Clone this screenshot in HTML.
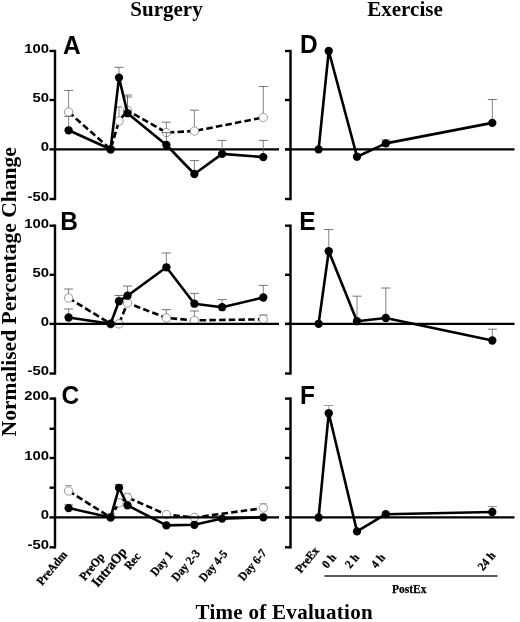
<!DOCTYPE html>
<html><head><meta charset="utf-8"><title>Figure</title>
<style>html,body{margin:0;padding:0;background:#fff}svg{display:block;will-change:transform;transform:translateZ(0)}</style>
</head><body>
<svg width="520" height="622" viewBox="0 0 520 622">
<line x1="68.60" y1="112.00" x2="68.60" y2="90.40" stroke="#666" stroke-width="0.8" />
<line x1="64.10" y1="90.40" x2="73.10" y2="90.40" stroke="#666" stroke-width="0.9" />
<line x1="119.00" y1="121.00" x2="119.00" y2="107.00" stroke="#666" stroke-width="0.8" />
<line x1="116.00" y1="107.00" x2="122.00" y2="107.00" stroke="#666" stroke-width="0.9" />
<line x1="127.50" y1="110.40" x2="127.50" y2="97.00" stroke="#666" stroke-width="0.8" />
<line x1="123.00" y1="97.00" x2="132.00" y2="97.00" stroke="#666" stroke-width="0.9" />
<line x1="166.40" y1="132.60" x2="166.40" y2="122.20" stroke="#666" stroke-width="0.8" />
<line x1="161.90" y1="122.20" x2="170.90" y2="122.20" stroke="#666" stroke-width="0.9" />
<line x1="194.40" y1="131.00" x2="194.40" y2="110.20" stroke="#666" stroke-width="0.8" />
<line x1="189.90" y1="110.20" x2="198.90" y2="110.20" stroke="#666" stroke-width="0.9" />
<line x1="263.30" y1="117.50" x2="263.30" y2="86.50" stroke="#666" stroke-width="0.8" />
<line x1="258.80" y1="86.50" x2="267.80" y2="86.50" stroke="#666" stroke-width="0.9" />
<line x1="55.00" y1="49.80" x2="55.00" y2="200.20" stroke="#000" stroke-width="2.4" />
<line x1="290.50" y1="49.80" x2="290.50" y2="200.20" stroke="#000" stroke-width="2.4" />
<line x1="49.50" y1="51.00" x2="55.00" y2="51.00" stroke="#000" stroke-width="2.4" />
<line x1="285.00" y1="51.00" x2="290.50" y2="51.00" stroke="#000" stroke-width="2.4" />
<text transform="translate(48.90 52.80) scale(1.1 1)" font-family="'Liberation Sans', Arial, sans-serif" font-weight="bold" font-size="13.5" text-anchor="end">100</text>
<line x1="49.50" y1="100.00" x2="55.00" y2="100.00" stroke="#000" stroke-width="2.4" />
<line x1="285.00" y1="100.00" x2="290.50" y2="100.00" stroke="#000" stroke-width="2.4" />
<text transform="translate(48.90 101.80) scale(1.1 1)" font-family="'Liberation Sans', Arial, sans-serif" font-weight="bold" font-size="13.5" text-anchor="end">50</text>
<line x1="49.50" y1="149.35" x2="55.00" y2="149.35" stroke="#000" stroke-width="2.4" />
<line x1="285.00" y1="149.35" x2="290.50" y2="149.35" stroke="#000" stroke-width="2.4" />
<text transform="translate(48.90 151.15) scale(1.1 1)" font-family="'Liberation Sans', Arial, sans-serif" font-weight="bold" font-size="13.5" text-anchor="end">0</text>
<line x1="49.50" y1="199.00" x2="55.00" y2="199.00" stroke="#000" stroke-width="2.4" />
<line x1="285.00" y1="199.00" x2="290.50" y2="199.00" stroke="#000" stroke-width="2.4" />
<text transform="translate(48.90 200.80) scale(1.1 1)" font-family="'Liberation Sans', Arial, sans-serif" font-weight="bold" font-size="13.5" text-anchor="end">-50</text>
<polyline points="68.60,112.00 110.60,149.30 119.00,121.00 127.50,110.40 166.40,132.60 194.40,131.00 263.30,117.50" fill="none" stroke="#000" stroke-width="2.6" stroke-linejoin="round" stroke-dasharray="6.5 3.2"/>
<circle cx="68.60" cy="112.00" r="4.2" fill="#fff" stroke="#808080" stroke-width="0.8"/>
<circle cx="110.60" cy="149.30" r="4.2" fill="#fff" stroke="#808080" stroke-width="0.8"/>
<circle cx="119.00" cy="121.00" r="4.2" fill="#fff" stroke="#808080" stroke-width="0.8"/>
<circle cx="127.50" cy="110.40" r="4.2" fill="#fff" stroke="#808080" stroke-width="0.8"/>
<circle cx="166.40" cy="132.60" r="4.2" fill="#fff" stroke="#808080" stroke-width="0.8"/>
<circle cx="194.40" cy="131.00" r="4.2" fill="#fff" stroke="#808080" stroke-width="0.8"/>
<circle cx="263.30" cy="117.50" r="4.2" fill="#fff" stroke="#808080" stroke-width="0.8"/>
<line x1="55.00" y1="149.35" x2="279.00" y2="149.35" stroke="#000" stroke-width="2.4" />
<line x1="285.00" y1="149.35" x2="514.50" y2="149.35" stroke="#000" stroke-width="2.4" />
<line x1="68.60" y1="130.30" x2="68.60" y2="116.40" stroke="#666" stroke-width="0.8" />
<line x1="64.10" y1="116.40" x2="73.10" y2="116.40" stroke="#666" stroke-width="0.9" />
<line x1="119.00" y1="77.60" x2="119.00" y2="67.30" stroke="#666" stroke-width="0.8" />
<line x1="114.50" y1="67.30" x2="123.50" y2="67.30" stroke="#666" stroke-width="0.9" />
<line x1="127.50" y1="113.20" x2="127.50" y2="95.00" stroke="#666" stroke-width="0.8" />
<line x1="123.00" y1="95.00" x2="132.00" y2="95.00" stroke="#666" stroke-width="0.9" />
<line x1="166.40" y1="145.00" x2="166.40" y2="132.60" stroke="#666" stroke-width="0.8" />
<line x1="161.90" y1="132.60" x2="170.90" y2="132.60" stroke="#666" stroke-width="0.9" />
<line x1="194.40" y1="174.00" x2="194.40" y2="160.60" stroke="#666" stroke-width="0.8" />
<line x1="189.90" y1="160.60" x2="198.90" y2="160.60" stroke="#666" stroke-width="0.9" />
<line x1="222.10" y1="153.90" x2="222.10" y2="140.40" stroke="#666" stroke-width="0.8" />
<line x1="217.60" y1="140.40" x2="226.60" y2="140.40" stroke="#666" stroke-width="0.9" />
<line x1="263.30" y1="157.10" x2="263.30" y2="140.40" stroke="#666" stroke-width="0.8" />
<line x1="258.80" y1="140.40" x2="267.80" y2="140.40" stroke="#666" stroke-width="0.9" />
<line x1="385.80" y1="143.40" x2="385.80" y2="140.00" stroke="#666" stroke-width="0.8" />
<line x1="381.30" y1="140.00" x2="390.30" y2="140.00" stroke="#666" stroke-width="0.9" />
<line x1="492.30" y1="122.90" x2="492.30" y2="99.50" stroke="#666" stroke-width="0.8" />
<line x1="487.80" y1="99.50" x2="496.80" y2="99.50" stroke="#666" stroke-width="0.9" />
<polyline points="68.60,130.30 110.60,149.30 119.00,77.60 127.50,113.20 166.40,145.00 194.40,174.00 222.10,153.90 263.30,157.10" fill="none" stroke="#000" stroke-width="2.6" stroke-linejoin="round"/>
<polyline points="318.60,149.35 328.75,51.00 357.00,156.70 385.80,143.40 492.30,122.90" fill="none" stroke="#000" stroke-width="2.6" stroke-linejoin="round"/>
<circle cx="68.60" cy="130.30" r="4.15" fill="#000"/>
<circle cx="110.60" cy="149.30" r="4.15" fill="#000"/>
<circle cx="119.00" cy="77.60" r="4.15" fill="#000"/>
<circle cx="127.50" cy="113.20" r="4.15" fill="#000"/>
<circle cx="166.40" cy="145.00" r="4.15" fill="#000"/>
<circle cx="194.40" cy="174.00" r="4.15" fill="#000"/>
<circle cx="222.10" cy="153.90" r="4.15" fill="#000"/>
<circle cx="263.30" cy="157.10" r="4.15" fill="#000"/>
<circle cx="318.60" cy="149.35" r="4.15" fill="#000"/>
<circle cx="328.75" cy="51.00" r="4.15" fill="#000"/>
<circle cx="357.00" cy="156.70" r="4.15" fill="#000"/>
<circle cx="385.80" cy="143.40" r="4.15" fill="#000"/>
<circle cx="492.30" cy="122.90" r="4.15" fill="#000"/>
<text transform="translate(62.90 53.50) scale(0.98 1)" font-family="'Liberation Sans', Arial, sans-serif" font-weight="bold" font-size="25" text-anchor="start">A</text>
<text transform="translate(299.90 53.20) scale(0.98 1)" font-family="'Liberation Sans', Arial, sans-serif" font-weight="bold" font-size="25" text-anchor="start">D</text>
<line x1="68.60" y1="298.00" x2="68.60" y2="289.00" stroke="#666" stroke-width="0.8" />
<line x1="64.10" y1="289.00" x2="73.10" y2="289.00" stroke="#666" stroke-width="0.9" />
<line x1="166.40" y1="317.90" x2="166.40" y2="309.60" stroke="#666" stroke-width="0.8" />
<line x1="161.90" y1="309.60" x2="170.90" y2="309.60" stroke="#666" stroke-width="0.9" />
<line x1="194.40" y1="320.40" x2="194.40" y2="311.00" stroke="#666" stroke-width="0.8" />
<line x1="189.90" y1="311.00" x2="198.90" y2="311.00" stroke="#666" stroke-width="0.9" />
<line x1="263.30" y1="319.30" x2="263.30" y2="315.00" stroke="#666" stroke-width="0.8" />
<line x1="258.80" y1="315.00" x2="267.80" y2="315.00" stroke="#666" stroke-width="0.9" />
<line x1="55.00" y1="224.50" x2="55.00" y2="374.70" stroke="#000" stroke-width="2.4" />
<line x1="290.50" y1="224.50" x2="290.50" y2="374.70" stroke="#000" stroke-width="2.4" />
<line x1="49.50" y1="225.70" x2="55.00" y2="225.70" stroke="#000" stroke-width="2.4" />
<line x1="285.00" y1="225.70" x2="290.50" y2="225.70" stroke="#000" stroke-width="2.4" />
<text transform="translate(48.90 227.50) scale(1.1 1)" font-family="'Liberation Sans', Arial, sans-serif" font-weight="bold" font-size="13.5" text-anchor="end">100</text>
<line x1="49.50" y1="274.80" x2="55.00" y2="274.80" stroke="#000" stroke-width="2.4" />
<line x1="285.00" y1="274.80" x2="290.50" y2="274.80" stroke="#000" stroke-width="2.4" />
<text transform="translate(48.90 276.60) scale(1.1 1)" font-family="'Liberation Sans', Arial, sans-serif" font-weight="bold" font-size="13.5" text-anchor="end">50</text>
<line x1="49.50" y1="323.90" x2="55.00" y2="323.90" stroke="#000" stroke-width="2.4" />
<line x1="285.00" y1="323.90" x2="290.50" y2="323.90" stroke="#000" stroke-width="2.4" />
<text transform="translate(48.90 325.70) scale(1.1 1)" font-family="'Liberation Sans', Arial, sans-serif" font-weight="bold" font-size="13.5" text-anchor="end">0</text>
<line x1="49.50" y1="373.50" x2="55.00" y2="373.50" stroke="#000" stroke-width="2.4" />
<line x1="285.00" y1="373.50" x2="290.50" y2="373.50" stroke="#000" stroke-width="2.4" />
<text transform="translate(48.90 375.30) scale(1.1 1)" font-family="'Liberation Sans', Arial, sans-serif" font-weight="bold" font-size="13.5" text-anchor="end">-50</text>
<polyline points="68.60,298.00 110.60,323.80 119.00,323.80 127.50,303.00 166.40,317.90 194.40,320.40 263.30,319.30" fill="none" stroke="#000" stroke-width="2.6" stroke-linejoin="round" stroke-dasharray="6.5 3.2"/>
<circle cx="68.60" cy="298.00" r="4.2" fill="#fff" stroke="#808080" stroke-width="0.8"/>
<circle cx="110.60" cy="323.80" r="4.2" fill="#fff" stroke="#808080" stroke-width="0.8"/>
<circle cx="119.00" cy="323.80" r="4.2" fill="#fff" stroke="#808080" stroke-width="0.8"/>
<circle cx="127.50" cy="303.00" r="4.2" fill="#fff" stroke="#808080" stroke-width="0.8"/>
<circle cx="166.40" cy="317.90" r="4.2" fill="#fff" stroke="#808080" stroke-width="0.8"/>
<circle cx="194.40" cy="320.40" r="4.2" fill="#fff" stroke="#808080" stroke-width="0.8"/>
<circle cx="263.30" cy="319.30" r="4.2" fill="#fff" stroke="#808080" stroke-width="0.8"/>
<line x1="55.00" y1="323.90" x2="279.00" y2="323.90" stroke="#000" stroke-width="2.4" />
<line x1="285.00" y1="323.90" x2="514.50" y2="323.90" stroke="#000" stroke-width="2.4" />
<line x1="68.60" y1="317.50" x2="68.60" y2="309.00" stroke="#666" stroke-width="0.8" />
<line x1="64.10" y1="309.00" x2="73.10" y2="309.00" stroke="#666" stroke-width="0.9" />
<line x1="119.00" y1="301.20" x2="119.00" y2="295.50" stroke="#666" stroke-width="0.8" />
<line x1="114.50" y1="295.50" x2="123.50" y2="295.50" stroke="#666" stroke-width="0.9" />
<line x1="127.50" y1="295.70" x2="127.50" y2="286.00" stroke="#666" stroke-width="0.8" />
<line x1="123.00" y1="286.00" x2="132.00" y2="286.00" stroke="#666" stroke-width="0.9" />
<line x1="166.40" y1="267.30" x2="166.40" y2="253.00" stroke="#666" stroke-width="0.8" />
<line x1="161.90" y1="253.00" x2="170.90" y2="253.00" stroke="#666" stroke-width="0.9" />
<line x1="194.40" y1="303.70" x2="194.40" y2="293.40" stroke="#666" stroke-width="0.8" />
<line x1="189.90" y1="293.40" x2="198.90" y2="293.40" stroke="#666" stroke-width="0.9" />
<line x1="222.10" y1="307.20" x2="222.10" y2="299.60" stroke="#666" stroke-width="0.8" />
<line x1="217.60" y1="299.60" x2="226.60" y2="299.60" stroke="#666" stroke-width="0.9" />
<line x1="263.30" y1="297.50" x2="263.30" y2="285.40" stroke="#666" stroke-width="0.8" />
<line x1="258.80" y1="285.40" x2="267.80" y2="285.40" stroke="#666" stroke-width="0.9" />
<line x1="328.75" y1="251.20" x2="328.75" y2="229.50" stroke="#666" stroke-width="0.8" />
<line x1="324.25" y1="229.50" x2="333.25" y2="229.50" stroke="#666" stroke-width="0.9" />
<line x1="357.00" y1="321.20" x2="357.00" y2="296.20" stroke="#666" stroke-width="0.8" />
<line x1="352.50" y1="296.20" x2="361.50" y2="296.20" stroke="#666" stroke-width="0.9" />
<line x1="385.80" y1="318.00" x2="385.80" y2="288.00" stroke="#666" stroke-width="0.8" />
<line x1="381.30" y1="288.00" x2="390.30" y2="288.00" stroke="#666" stroke-width="0.9" />
<line x1="492.30" y1="340.50" x2="492.30" y2="329.20" stroke="#666" stroke-width="0.8" />
<line x1="487.80" y1="329.20" x2="496.80" y2="329.20" stroke="#666" stroke-width="0.9" />
<polyline points="68.60,317.50 110.60,323.80 119.00,301.20 127.50,295.70 166.40,267.30 194.40,303.70 222.10,307.20 263.30,297.50" fill="none" stroke="#000" stroke-width="2.6" stroke-linejoin="round"/>
<polyline points="318.60,323.80 328.75,251.20 357.00,321.20 385.80,318.00 492.30,340.50" fill="none" stroke="#000" stroke-width="2.6" stroke-linejoin="round"/>
<circle cx="68.60" cy="317.50" r="4.15" fill="#000"/>
<circle cx="110.60" cy="323.80" r="4.15" fill="#000"/>
<circle cx="119.00" cy="301.20" r="4.15" fill="#000"/>
<circle cx="127.50" cy="295.70" r="4.15" fill="#000"/>
<circle cx="166.40" cy="267.30" r="4.15" fill="#000"/>
<circle cx="194.40" cy="303.70" r="4.15" fill="#000"/>
<circle cx="222.10" cy="307.20" r="4.15" fill="#000"/>
<circle cx="263.30" cy="297.50" r="4.15" fill="#000"/>
<circle cx="318.60" cy="323.80" r="4.15" fill="#000"/>
<circle cx="328.75" cy="251.20" r="4.15" fill="#000"/>
<circle cx="357.00" cy="321.20" r="4.15" fill="#000"/>
<circle cx="385.80" cy="318.00" r="4.15" fill="#000"/>
<circle cx="492.30" cy="340.50" r="4.15" fill="#000"/>
<text transform="translate(60.20 229.80) scale(0.98 1)" font-family="'Liberation Sans', Arial, sans-serif" font-weight="bold" font-size="25" text-anchor="start">B</text>
<text transform="translate(299.30 230.00) scale(0.98 1)" font-family="'Liberation Sans', Arial, sans-serif" font-weight="bold" font-size="25" text-anchor="start">E</text>
<line x1="68.60" y1="491.00" x2="68.60" y2="485.60" stroke="#8a8a8a" stroke-width="0.8" />
<line x1="65.10" y1="485.60" x2="72.10" y2="485.60" stroke="#8a8a8a" stroke-width="0.9" />
<line x1="119.00" y1="502.80" x2="119.00" y2="499.00" stroke="#8a8a8a" stroke-width="0.8" />
<line x1="115.50" y1="499.00" x2="122.50" y2="499.00" stroke="#8a8a8a" stroke-width="0.9" />
<line x1="127.50" y1="497.40" x2="127.50" y2="493.90" stroke="#8a8a8a" stroke-width="0.8" />
<line x1="124.00" y1="493.90" x2="131.00" y2="493.90" stroke="#8a8a8a" stroke-width="0.9" />
<line x1="263.30" y1="508.10" x2="263.30" y2="503.80" stroke="#8a8a8a" stroke-width="0.8" />
<line x1="259.80" y1="503.80" x2="266.80" y2="503.80" stroke="#8a8a8a" stroke-width="0.9" />
<line x1="55.00" y1="397.40" x2="55.00" y2="548.50" stroke="#000" stroke-width="2.4" />
<line x1="290.50" y1="397.40" x2="290.50" y2="548.50" stroke="#000" stroke-width="2.4" />
<line x1="49.50" y1="398.60" x2="55.00" y2="398.60" stroke="#000" stroke-width="2.4" />
<line x1="285.00" y1="398.60" x2="290.50" y2="398.60" stroke="#000" stroke-width="2.4" />
<text transform="translate(48.90 400.40) scale(1.1 1)" font-family="'Liberation Sans', Arial, sans-serif" font-weight="bold" font-size="13.5" text-anchor="end">200</text>
<line x1="49.50" y1="428.80" x2="55.00" y2="428.80" stroke="#000" stroke-width="2.4" />
<line x1="285.00" y1="428.80" x2="290.50" y2="428.80" stroke="#000" stroke-width="2.4" />
<line x1="49.50" y1="458.00" x2="55.00" y2="458.00" stroke="#000" stroke-width="2.4" />
<line x1="285.00" y1="458.00" x2="290.50" y2="458.00" stroke="#000" stroke-width="2.4" />
<text transform="translate(48.90 459.80) scale(1.1 1)" font-family="'Liberation Sans', Arial, sans-serif" font-weight="bold" font-size="13.5" text-anchor="end">100</text>
<line x1="49.50" y1="487.70" x2="55.00" y2="487.70" stroke="#000" stroke-width="2.4" />
<line x1="285.00" y1="487.70" x2="290.50" y2="487.70" stroke="#000" stroke-width="2.4" />
<line x1="49.50" y1="517.40" x2="55.00" y2="517.40" stroke="#000" stroke-width="2.4" />
<line x1="285.00" y1="517.40" x2="290.50" y2="517.40" stroke="#000" stroke-width="2.4" />
<text transform="translate(48.90 519.20) scale(1.1 1)" font-family="'Liberation Sans', Arial, sans-serif" font-weight="bold" font-size="13.5" text-anchor="end">0</text>
<line x1="49.50" y1="547.30" x2="55.00" y2="547.30" stroke="#000" stroke-width="2.4" />
<line x1="285.00" y1="547.30" x2="290.50" y2="547.30" stroke="#000" stroke-width="2.4" />
<text transform="translate(48.90 549.10) scale(1.1 1)" font-family="'Liberation Sans', Arial, sans-serif" font-weight="bold" font-size="13.5" text-anchor="end">-50</text>
<polyline points="68.60,491.00 110.60,517.40 119.00,502.80 127.50,497.40 166.40,514.60 194.40,517.50 263.30,508.10" fill="none" stroke="#000" stroke-width="2.6" stroke-linejoin="round" stroke-dasharray="6.5 3.2"/>
<circle cx="68.60" cy="491.00" r="4.2" fill="#fff" stroke="#808080" stroke-width="0.8"/>
<circle cx="110.60" cy="517.40" r="4.2" fill="#fff" stroke="#808080" stroke-width="0.8"/>
<circle cx="119.00" cy="502.80" r="4.2" fill="#fff" stroke="#808080" stroke-width="0.8"/>
<circle cx="127.50" cy="497.40" r="4.2" fill="#fff" stroke="#808080" stroke-width="0.8"/>
<circle cx="166.40" cy="514.60" r="4.2" fill="#fff" stroke="#808080" stroke-width="0.8"/>
<circle cx="194.40" cy="517.50" r="4.2" fill="#fff" stroke="#808080" stroke-width="0.8"/>
<circle cx="263.30" cy="508.10" r="4.2" fill="#fff" stroke="#808080" stroke-width="0.8"/>
<line x1="55.00" y1="517.40" x2="279.00" y2="517.40" stroke="#000" stroke-width="2.4" />
<line x1="285.00" y1="517.40" x2="514.50" y2="517.40" stroke="#000" stroke-width="2.4" />
<line x1="68.60" y1="508.10" x2="68.60" y2="504.40" stroke="#8a8a8a" stroke-width="0.8" />
<line x1="64.10" y1="504.40" x2="73.10" y2="504.40" stroke="#8a8a8a" stroke-width="0.9" />
<line x1="119.00" y1="487.80" x2="119.00" y2="484.50" stroke="#8a8a8a" stroke-width="0.8" />
<line x1="114.50" y1="484.50" x2="123.50" y2="484.50" stroke="#8a8a8a" stroke-width="0.9" />
<line x1="328.75" y1="413.20" x2="328.75" y2="405.50" stroke="#8a8a8a" stroke-width="0.8" />
<line x1="324.25" y1="405.50" x2="333.25" y2="405.50" stroke="#8a8a8a" stroke-width="0.9" />
<line x1="492.30" y1="512.00" x2="492.30" y2="506.50" stroke="#8a8a8a" stroke-width="0.8" />
<line x1="487.80" y1="506.50" x2="496.80" y2="506.50" stroke="#8a8a8a" stroke-width="0.9" />
<polyline points="68.60,508.10 110.60,517.40 119.00,487.80 127.50,505.30 166.40,525.40 194.40,524.80 222.10,518.60 263.30,517.30" fill="none" stroke="#000" stroke-width="2.6" stroke-linejoin="round"/>
<polyline points="318.60,517.50 328.75,413.20 357.00,531.40 385.80,514.20 492.30,512.00" fill="none" stroke="#000" stroke-width="2.6" stroke-linejoin="round"/>
<circle cx="68.60" cy="508.10" r="4.15" fill="#000"/>
<circle cx="110.60" cy="517.40" r="4.15" fill="#000"/>
<circle cx="119.00" cy="487.80" r="4.15" fill="#000"/>
<circle cx="127.50" cy="505.30" r="4.15" fill="#000"/>
<circle cx="166.40" cy="525.40" r="4.15" fill="#000"/>
<circle cx="194.40" cy="524.80" r="4.15" fill="#000"/>
<circle cx="222.10" cy="518.60" r="4.15" fill="#000"/>
<circle cx="263.30" cy="517.30" r="4.15" fill="#000"/>
<circle cx="318.60" cy="517.50" r="4.15" fill="#000"/>
<circle cx="328.75" cy="413.20" r="4.15" fill="#000"/>
<circle cx="357.00" cy="531.40" r="4.15" fill="#000"/>
<circle cx="385.80" cy="514.20" r="4.15" fill="#000"/>
<circle cx="492.30" cy="512.00" r="4.15" fill="#000"/>
<text transform="translate(61.40 403.60) scale(0.98 1)" font-family="'Liberation Sans', Arial, sans-serif" font-weight="bold" font-size="25" text-anchor="start">C</text>
<text transform="translate(300.00 403.80) scale(0.98 1)" font-family="'Liberation Sans', Arial, sans-serif" font-weight="bold" font-size="25" text-anchor="start">F</text>
<text transform="translate(166.50 15.60) rotate(0) scale(1 1)" font-family="'Liberation Serif', 'Times New Roman', serif" font-weight="bold" font-size="21" text-anchor="middle" >Surgery</text>
<text transform="translate(405.00 15.50) rotate(0) scale(1 1)" font-family="'Liberation Serif', 'Times New Roman', serif" font-weight="bold" font-size="21" text-anchor="middle" >Exercise</text>
<text transform="translate(284.10 619.30) rotate(0) scale(1 1)" font-family="'Liberation Serif', 'Times New Roman', serif" font-weight="bold" font-size="21" text-anchor="middle" textLength="177.2" lengthAdjust="spacing">Time of Evaluation</text>
<text transform="translate(16.00 436.40) rotate(-90) scale(1 1)" font-family="'Liberation Serif', 'Times New Roman', serif" font-weight="bold" font-size="21.5" text-anchor="start" textLength="289.2" lengthAdjust="spacing">Normalised Percentage Change</text>
<text transform="translate(67.70 555.20) rotate(-50) scale(0.93 1)" font-family="'Liberation Serif', 'Times New Roman', serif" font-weight="bold" font-size="12" text-anchor="end" stroke="#000" stroke-width="0.3">PreAdm</text>
<text transform="translate(105.00 557.10) rotate(-50) scale(0.93 1)" font-family="'Liberation Serif', 'Times New Roman', serif" font-weight="bold" font-size="12" text-anchor="end" stroke="#000" stroke-width="0.3">PreOp</text>
<text transform="translate(127.45 552.30) rotate(-50) scale(0.93 1)" font-family="'Liberation Serif', 'Times New Roman', serif" font-weight="bold" font-size="14" text-anchor="end" stroke="#000" stroke-width="0.3">IntraOp</text>
<text transform="translate(141.20 556.80) rotate(-50) scale(0.93 1)" font-family="'Liberation Serif', 'Times New Roman', serif" font-weight="bold" font-size="12" text-anchor="end" stroke="#000" stroke-width="0.3">Rec</text>
<text transform="translate(173.40 555.60) rotate(-50) scale(0.93 1)" font-family="'Liberation Serif', 'Times New Roman', serif" font-weight="bold" font-size="12" text-anchor="end" stroke="#000" stroke-width="0.3">Day 1</text>
<text transform="translate(200.50 553.80) rotate(-50) scale(0.93 1)" font-family="'Liberation Serif', 'Times New Roman', serif" font-weight="bold" font-size="12" text-anchor="end" stroke="#000" stroke-width="0.3">Day 2-3</text>
<text transform="translate(228.00 554.30) rotate(-50) scale(0.93 1)" font-family="'Liberation Serif', 'Times New Roman', serif" font-weight="bold" font-size="12" text-anchor="end" stroke="#000" stroke-width="0.3">Day 4-5</text>
<text transform="translate(267.20 553.30) rotate(-50) scale(0.93 1)" font-family="'Liberation Serif', 'Times New Roman', serif" font-weight="bold" font-size="12" text-anchor="end" stroke="#000" stroke-width="0.3">Day 6-7</text>
<text transform="translate(319.70 551.10) rotate(-50) scale(0.93 1)" font-family="'Liberation Serif', 'Times New Roman', serif" font-weight="bold" font-size="12" text-anchor="end" stroke="#000" stroke-width="0.3">PreEx</text>
<text transform="translate(336.70 557.80) rotate(-50) scale(0.93 1)" font-family="'Liberation Serif', 'Times New Roman', serif" font-weight="bold" font-size="12" text-anchor="end" stroke="#000" stroke-width="0.3">0 h</text>
<text transform="translate(359.70 557.80) rotate(-50) scale(0.93 1)" font-family="'Liberation Serif', 'Times New Roman', serif" font-weight="bold" font-size="12" text-anchor="end" stroke="#000" stroke-width="0.3">2 h</text>
<text transform="translate(385.70 557.80) rotate(-50) scale(0.93 1)" font-family="'Liberation Serif', 'Times New Roman', serif" font-weight="bold" font-size="12" text-anchor="end" stroke="#000" stroke-width="0.3">4 h</text>
<text transform="translate(495.95 555.80) rotate(-50) scale(0.93 1)" font-family="'Liberation Serif', 'Times New Roman', serif" font-weight="bold" font-size="12" text-anchor="end" stroke="#000" stroke-width="0.3">24 h</text>
<line x1="324.50" y1="576.00" x2="497.50" y2="576.00" stroke="#222" stroke-width="1.3" />
<text transform="translate(409.20 592.70) rotate(0) scale(1 1)" font-family="'Liberation Serif', 'Times New Roman', serif" font-weight="bold" font-size="11.5" text-anchor="middle" stroke="#000" stroke-width="0.25">PostEx</text>
</svg>
</body></html>
